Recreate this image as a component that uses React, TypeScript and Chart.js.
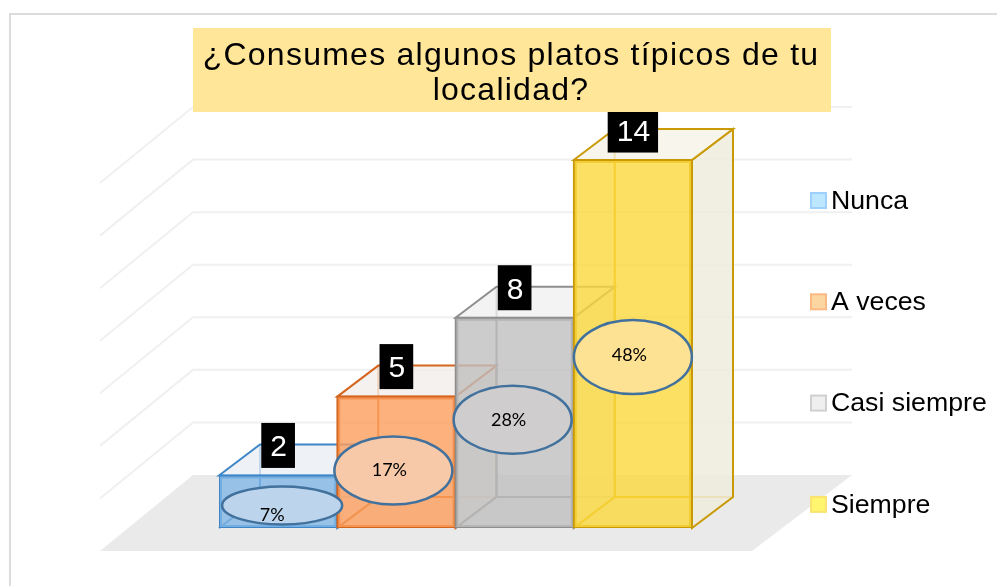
import React, { useEffect, useRef } from "react";
import { Chart, registerables } from "chart.js";

Chart.register(...registerables);

const categories = ["Nunca", "A veces", "Casi siempre", "Siempre"];
const counts = [2, 5, 8, 14];
const percents = ["7%", "17%", "28%", "48%"];
const titleLines = ["¿Consumes algunos platos típicos de tu", "localidad?"];

const frontFill = ["rgba(130,182,229,0.8)", "rgba(253,159,94,0.8)", "rgba(191,191,191,0.8)", "rgba(251,216,61,0.8)"];
const edge = ["#3f86c8", "#d5661f", "#8e8e8e", "#c99a06"];
const backEdge = ["#2f7fd0", "#dd6a10", "#858585", "#e0aa00"];
const topFill = ["rgba(234,239,244,0.8)", "rgba(243,238,234,0.8)", "rgba(240,240,240,0.8)", "rgba(246,243,231,0.8)"];
const sideFill = ["rgba(232,236,240,0.8)", "rgba(240,232,226,0.8)", "rgba(236,236,236,0.8)", "rgba(239,235,221,0.85)"];
const bubbleFill = ["#bcd5ec", "#f7c9a9", "#cfcdcd", "#fde293"];
const legendFill = ["#bde7ff", "#fcd6a0", "#efefef", "#fff56e"];
const legendEdge = ["#9fd0fb", "#fbb983", "#d0d0d0", "#fbe36f"];

// annotation placement relative to each bar: [dx, dy, rx, ry, textDx, textDy]
const bubbleLayout = [
  [4, 30, 60, 19, -10, 10],
  [-3, 74, 59, 34, -4, 0],
  [-2, 102, 59, 34, -4, 0],
  [0, 197, 59, 37, -3.5, -2],
];

const DEPTH_X = 41;
const DEPTH_Y = -31;
const TITLE_BOX = { left: 193, top: 28, right: 831, bottom: 112 };
const FONT = '"Liberation Sans", Arial, sans-serif';

const scenePlugin = {
  id: "scene",
  afterLayout(chart: any) {
    const t = chart.titleBlock;
    t.left = TITLE_BOX.left;
    t.right = TITLE_BOX.right - 2;
    if (!t.__wrapped) {
      t.__wrapped = true;
      const draw = t.draw;
      t.draw = function () {
        const c = chart.ctx;
        c.save();
        c.letterSpacing = "1.25px";
        draw.call(t);
        c.restore();
      };
    }
  },
  beforeDraw(chart: any) {
    const { ctx, scales } = chart;
    const y = scales.y;
    const y0 = y.getPixelForValue(0);
    const floorFrontY = y0 + 23;
    const floorBackY = y0 - 53;
    const wallBackX = 193;
    const wallFrontX = 100;
    const floorRightX = 852;
    ctx.save();
    // card frame
    ctx.strokeStyle = "#dcdcdc";
    ctx.lineWidth = 2;
    ctx.beginPath();
    ctx.moveTo(10, 586);
    ctx.lineTo(10, 14);
    ctx.lineTo(997, 14);
    ctx.stroke();
    // floor
    ctx.fillStyle = "#eaeaea";
    ctx.beginPath();
    ctx.moveTo(wallFrontX, floorFrontY);
    ctx.lineTo(752, floorFrontY);
    ctx.lineTo(floorRightX, floorBackY);
    ctx.lineTo(wallBackX, floorBackY);
    ctx.closePath();
    ctx.fill();
    // walls
    ctx.strokeStyle = "#f0f0f0";
    ctx.lineWidth = 2;
    y.ticks.forEach((tick: any) => {
      if (tick.value === 0) return;
      const h = y0 - y.getPixelForValue(tick.value);
      ctx.beginPath();
      ctx.moveTo(wallFrontX, floorFrontY - h);
      ctx.lineTo(wallBackX, floorBackY - h);
      ctx.lineTo(floorRightX, floorBackY - h);
      ctx.stroke();
    });
    // title band
    ctx.fillStyle = "#ffe699";
    ctx.fillRect(TITLE_BOX.left, TITLE_BOX.top, TITLE_BOX.right - TITLE_BOX.left, TITLE_BOX.bottom - TITLE_BOX.top);
    // legend
    ctx.textAlign = "left";
    ctx.textBaseline = "middle";
    ctx.font = `26.7px ${FONT}`;
    categories.forEach((name, i) => {
      const cy = 200.5 + i * 101.3;
      ctx.fillStyle = legendFill[i];
      ctx.strokeStyle = legendEdge[i];
      ctx.lineWidth = 2;
      ctx.fillRect(811, cy - 7.5, 15, 15);
      ctx.strokeRect(811, cy - 7.5, 15, 15);
      ctx.fillStyle = "#000";
      ctx.fillText(name, 831, cy + 1);
    });
    ctx.restore();
  },
  beforeDatasetsDraw(chart: any) {
    const { ctx } = chart;
    const meta = chart.getDatasetMeta(0);
    ctx.save();
    meta.data.forEach((bar: any, i: number) => {
      const { x, y, base, width } = bar.getProps(["x", "y", "base", "width"], true);
      const L = x - width / 2;
      const R = x + width / 2;
      const poly = (pts: number[][], fill?: string) => {
        ctx.beginPath();
        pts.forEach((p, k) => (k ? ctx.lineTo(p[0], p[1]) : ctx.moveTo(p[0], p[1])));
        if (fill) {
          ctx.closePath();
          ctx.fillStyle = fill;
          ctx.fill();
        }
        ctx.stroke();
      };
      ctx.lineWidth = 2;
      // bottom and back edges, seen through the front
      ctx.strokeStyle = backEdge[i];
      poly([[L, base], [L + DEPTH_X, base + DEPTH_Y], [R + DEPTH_X, base + DEPTH_Y]]);
      poly([[L + DEPTH_X, base + DEPTH_Y], [L + DEPTH_X, y + DEPTH_Y]]);
      ctx.strokeStyle = edge[i];
      poly([[R, y], [R + DEPTH_X, y + DEPTH_Y], [R + DEPTH_X, base + DEPTH_Y], [R, base]], sideFill[i]);
      poly([[L, y], [L + DEPTH_X, y + DEPTH_Y], [R + DEPTH_X, y + DEPTH_Y], [R, y]], topFill[i]);
    });
    ctx.restore();
  },
  afterDatasetsDraw(chart: any) {
    const { ctx } = chart;
    const meta = chart.getDatasetMeta(0);
    ctx.save();
    ctx.textAlign = "center";
    ctx.textBaseline = "middle";
    meta.data.forEach((bar: any, i: number) => {
      const { x, y } = bar.getProps(["x", "y"], true);
      const [dx, dy, rx, ry, tx, ty] = bubbleLayout[i];
      // value tag
      const label = String(counts[i]);
      ctx.font = `30px ${FONT}`;
      const w = ctx.measureText(label).width + 17;
      const tagTop = Math.max(y - 52.5, TITLE_BOX.bottom);
      ctx.fillStyle = "#000";
      ctx.fillRect(x - w / 2, tagTop, w, y - 7.5 - tagTop);
      ctx.fillStyle = "#fff";
      ctx.fillText(label, x + 0.5, y - 27.5);
      // percentage bubble
      ctx.beginPath();
      ctx.ellipse(x + dx, y + dy, rx, ry, 0, 0, Math.PI * 2);
      ctx.fillStyle = bubbleFill[i];
      ctx.fill();
      ctx.strokeStyle = "#41719c";
      ctx.lineWidth = 2.5;
      ctx.stroke();
      ctx.fillStyle = "#000";
      ctx.font = '18px Lato, "Noto Sans", sans-serif';
      ctx.fillText(percents[i], x + dx + tx, y + dy + ty);
    });
    ctx.restore();
  },
};

export default function App() {
  const ref = useRef<HTMLCanvasElement>(null);
  useEffect(() => {
    const chart = new Chart(ref.current as HTMLCanvasElement, {
      type: "bar",
      data: {
        labels: categories,
        datasets: [
          {
            data: counts,
            backgroundColor: frontFill,
            borderColor: edge,
            borderWidth: 2,
            borderSkipped: false,
            inflateAmount: 1,
            barPercentage: 1,
            categoryPercentage: 1,
          },
        ],
      },
      options: {
        responsive: false,
        animation: false,
        layout: { padding: { left: 219, right: 305, top: 26, bottom: 58 } },
        plugins: {
          legend: { display: false },
          tooltip: { enabled: false },
          title: {
            display: true,
            text: titleLines,
            color: "#000",
            font: { family: FONT, size: 32, weight: "normal", lineHeight: 1.11 },
            padding: { top: 12, bottom: 51 },
          },
        },
        scales: {
          x: { display: false },
          y: { display: false, min: 0, max: 14, ticks: { stepSize: 2 } },
        },
      },
      plugins: [scenePlugin],
    } as any);
    return () => chart.destroy();
  }, []);
  return (
    <div style={{ position: "absolute", left: 0, top: 0 }}>
      <canvas ref={ref} width={997} height={586} style={{ display: "block" }} />
    </div>
  );
}
